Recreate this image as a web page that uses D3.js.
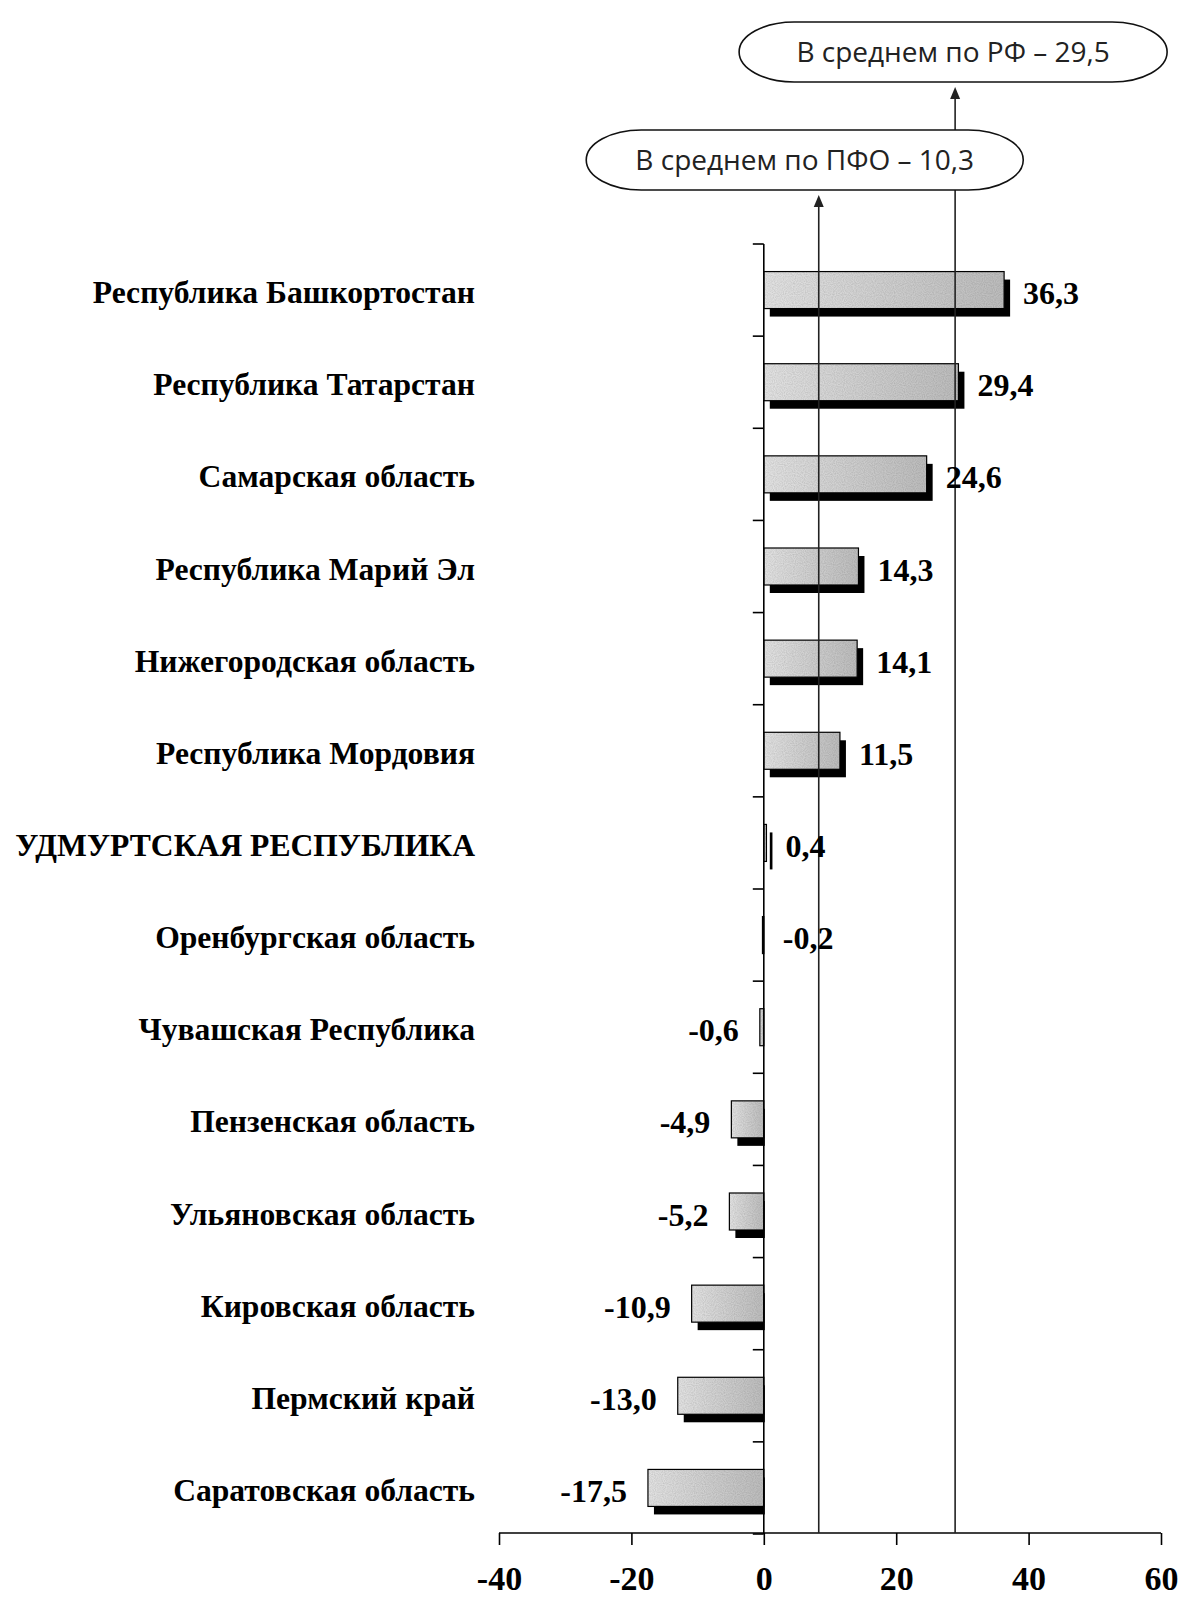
<!DOCTYPE html>
<html>
<head>
<meta charset="utf-8">
<script src="https://cdn.jsdelivr.net/npm/d3@7"></script>
<style>
  html, body { margin: 0; padding: 0; background: #fff; }
  svg { display: block; }
</style>
</head>
<body>
<svg id="chart" width="1181" height="1597"></svg>
<script>
// ---- data ----
const categories = [
  "Республика Башкортостан",
  "Республика Татарстан",
  "Самарская область",
  "Республика Марий Эл",
  "Нижегородская область",
  "Республика Мордовия",
  "УДМУРТСКАЯ РЕСПУБЛИКА",
  "Оренбургская область",
  "Чувашская Республика",
  "Пензенская область",
  "Ульяновская область",
  "Кировская область",
  "Пермский край",
  "Саратовская область"
];
const values = [36.3, 29.4, 24.6, 14.3, 14.1, 11.5, 0.4, -0.2, -0.6, -4.9, -5.2, -10.9, -13.0, -17.5];
const xTicks = [-40, -20, 0, 20, 40, 60];
const xTickLabels = ["-40", "-20", "0", "20", "40", "60"];
const refLabels = ["В среднем по РФ – 29,5", "В среднем по ПФО – 10,3"];
const refPositions = [28.9, 8.3]; // where the reference lines are drawn in the picture

// ---- layout ----
const svg = d3.select("#chart");
const x = d3.scaleLinear().domain([-40, 60]).range([499, 1161]);
const y = d3.scaleBand().domain(categories).range([244, 1534]);
const step = y.step();
const barH = 37;
const sdx = 6, sdy = 8;
const fmt = v => v.toFixed(1).replace(".", ",");
const serif = "'Liberation Serif', 'Times New Roman', serif";

// gradient + speckle texture for bar faces
const defs = svg.append("defs");
const grad = defs.append("linearGradient").attr("id", "barGrad")
  .attr("x1", "0").attr("x2", "1").attr("y1", "0").attr("y2", "0");
grad.append("stop").attr("offset", "0").attr("stop-color", "#e2e2e2");
grad.append("stop").attr("offset", "1").attr("stop-color", "#bcbcbc");
const flt = defs.append("filter").attr("id", "speckle")
  .attr("x", "0").attr("y", "0").attr("width", "1").attr("height", "1");
flt.append("feTurbulence").attr("type", "fractalNoise").attr("baseFrequency", 0.9)
  .attr("numOctaves", 1).attr("seed", 3).attr("result", "noise");
flt.append("feColorMatrix").attr("in", "noise").attr("type", "matrix")
  .attr("values", "0 0 0 0 0  0 0 0 0 0  0 0 0 0 0  0 0 0 -1.6 1.1").attr("result", "dots");
flt.append("feComposite").attr("in", "dots").attr("in2", "SourceGraphic").attr("operator", "in").attr("result", "dotsIn");
flt.append("feColorMatrix").attr("in", "dotsIn").attr("type", "matrix")
  .attr("values", "0 0 0 0 0  0 0 0 0 0  0 0 0 0 0  0 0 0 0.28 0").attr("result", "soft");
const fm = flt.append("feMerge");
fm.append("feMergeNode").attr("in", "SourceGraphic");
fm.append("feMergeNode").attr("in", "soft");

const cy = c => y(c) + step / 2;
const x0 = x(0);

// shadows
svg.append("g").selectAll("rect").data(values).join("rect")
  .attr("x", v => v >= 0 ? x0 + sdx : x(v) + sdx)
  .attr("width", v => v >= 0 ? Math.max(0, x(v) - x0) : Math.max(0, x0 + 1 - (x(v) + sdx)))
  .attr("y", (v, i) => cy(categories[i]) - barH / 2 + sdy)
  .attr("height", barH)
  .attr("fill", "#000");

// bar faces
svg.append("g").selectAll("rect").data(values).join("rect")
  .attr("x", v => Math.min(x(v), x0))
  .attr("width", v => Math.abs(x(v) - x0))
  .attr("y", (v, i) => cy(categories[i]) - barH / 2)
  .attr("height", barH)
  .attr("fill", "url(#barGrad)")
  .attr("filter", "url(#speckle)");
svg.append("g").selectAll("rect").data(values).join("rect")
  .attr("x", v => Math.min(x(v), x0))
  .attr("width", v => Math.abs(x(v) - x0))
  .attr("y", (v, i) => cy(categories[i]) - barH / 2)
  .attr("height", barH)
  .attr("fill", "none")
  .attr("stroke", "#000")
  .attr("stroke-width", 1.2);

// y axis
const yAxis = svg.append("g");
yAxis.append("line").attr("x1", x0).attr("x2", x0)
  .attr("y1", y.range()[0]).attr("y2", y.range()[1])
  .attr("stroke", "#000").attr("stroke-width", 1.6);
const bounds = categories.map(c => y(c)).concat([y.range()[1]]);
yAxis.selectAll("line.tick").data(bounds).join("line").attr("class", "tick")
  .attr("x1", x0 - 11).attr("x2", x0).attr("y1", d => d).attr("y2", d => d)
  .attr("stroke", "#000").attr("stroke-width", 1.6);

// x axis
const xAxisY = 1533;
const xAxis = svg.append("g").attr("transform", `translate(0,${xAxisY})`)
  .call(d3.axisBottom(x).tickValues(xTicks).tickSize(12)
    .tickFormat((d, i) => xTickLabels[i]));
xAxis.select(".domain").attr("stroke", "#000").attr("stroke-width", 1.6).attr("d", `M${x(-40)},0H${x(60)}`);
xAxis.selectAll(".tick line").attr("stroke", "#000").attr("stroke-width", 1.6);
xAxis.selectAll(".tick text")
  .attr("font-family", serif).attr("font-weight", "bold").attr("font-size", 34)
  .attr("fill", "#000").attr("y", 57).attr("dy", null);

// reference lines with arrowheads
const refTop = [87, 195];
refPositions.forEach((p, i) => {
  const lx = x(p);
  svg.append("line").attr("x1", lx).attr("x2", lx)
    .attr("y1", xAxisY).attr("y2", refTop[i] + 8)
    .attr("stroke", "#222").attr("stroke-width", 1.6);
  svg.append("path")
    .attr("d", `M${lx},${refTop[i]} L${lx - 5},${refTop[i] + 12} L${lx + 5},${refTop[i] + 12} Z`)
    .attr("fill", "#222");
});

// callouts
const boxes = [
  { cx: x(refPositions[0]) - 2, cy: 52, w: 428, h: 60 },
  { cx: x(refPositions[1]) - 14, cy: 160, w: 437, h: 60 }
];
boxes.forEach((b, i) => {
  svg.append("rect").attr("x", b.cx - b.w / 2).attr("y", b.cy - b.h / 2)
    .attr("width", b.w).attr("height", b.h).attr("rx", 55).attr("ry", 30)
    .attr("fill", "#fff").attr("stroke", "#111").attr("stroke-width", 1.6);
  svg.append("text").attr("x", b.cx).attr("y", b.cy + 10)
    .attr("text-anchor", "middle")
    .attr("font-family", "'Open Sans', 'Noto Sans', sans-serif")
    .attr("font-size", 28).attr("fill", "#222")
    .text(refLabels[i]);
});

// category labels
svg.append("g").selectAll("text").data(categories).join("text")
  .attr("x", 475).attr("y", c => cy(c) + 13)
  .attr("text-anchor", "end")
  .attr("font-family", serif).attr("font-weight", "bold").attr("font-size", 31.6)
  .attr("fill", "#000")
  .text(c => c);

// value labels
const rightSide = v => v > -0.5;
svg.append("g").selectAll("text").data(values).join("text")
  .attr("x", v => rightSide(v) ? x(Math.max(v, 0)) + 19 : x(v) - 21)
  .attr("y", (v, i) => cy(categories[i]) + 14)
  .attr("text-anchor", v => rightSide(v) ? "start" : "end")
  .attr("font-family", serif).attr("font-weight", "bold").attr("font-size", 32)
  .attr("fill", "#000")
  .text(v => fmt(v));
</script>
</body>
</html>
